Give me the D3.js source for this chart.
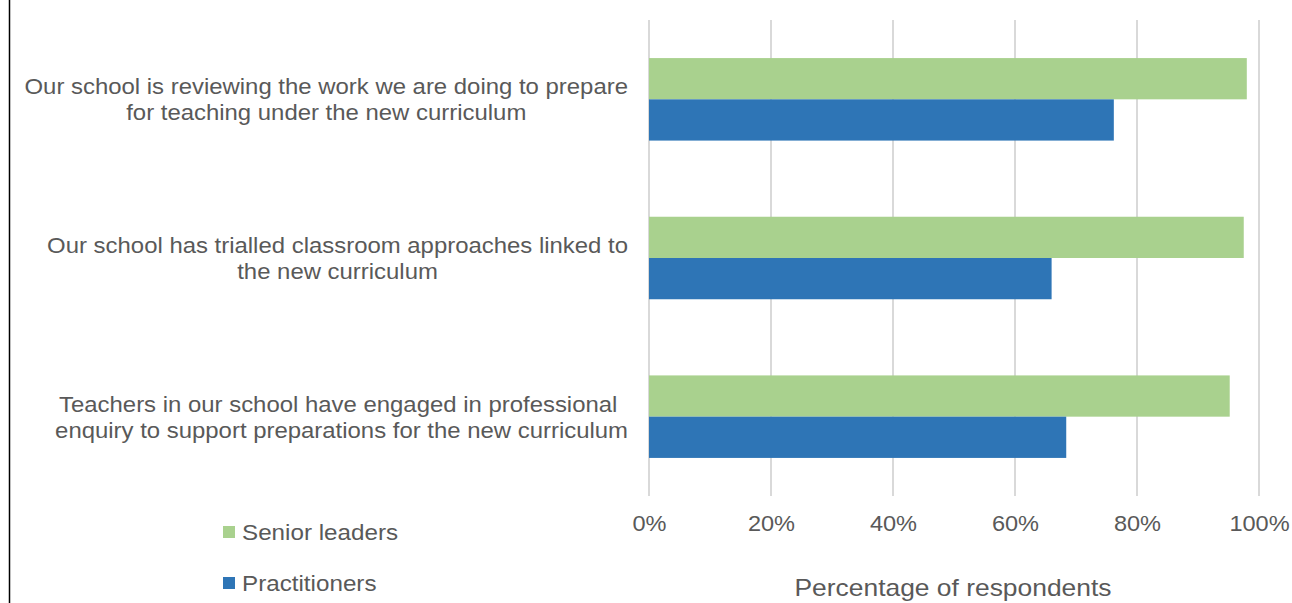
<!DOCTYPE html>
<html><head><meta charset="utf-8">
<script src="https://cdn.jsdelivr.net/npm/d3@7"></script>
<style>body{margin:0;background:#fff}svg{display:block}text{font-family:"Liberation Sans",Arial,sans-serif}</style>
</head><body>
<svg id="c" width="1292" height="603"></svg>
<script>
const categories = [
  ["Our school is reviewing the work we are doing to prepare", "for teaching under the new curriculum"],
  ["Our school has trialled classroom approaches linked to", "the new curriculum"],
  ["Teachers in our school have engaged in professional ", "enquiry to support preparations for the new curriculum"]
];
const seriesNames = ["Senior leaders", "Practitioners"];
const seniorLeaders = [98.0, 97.5, 95.2];
const practitioners = [76.2, 66.0, 68.4];
const xTicks = [0, 20, 40, 60, 80, 100];
const colors = ["#A9D18E", "#2E75B6"];

const svg = d3.select("#c");
const W = 1292, H = 603;
const STRETCH = 1.09;
function stretch(sel, k) {
  sel.each(function () {
    const w = this.getComputedTextLength();
    d3.select(this).attr("textLength", w * (k || STRETCH)).attr("lengthAdjust", "spacingAndGlyphs");
  });
}
const x = d3.scaleLinear().domain([0, 100]).range([649, 1259]);
const y = d3.scaleBand().domain(d3.range(categories.length)).range([20, 496]).paddingInner(0.48).paddingOuter(0.24);
const sub = d3.scaleBand().domain([0, 1]).range([0, y.bandwidth()]);
const values = [seniorLeaders, practitioners];

// left border
svg.append("line").attr("x1", 9.5).attr("x2", 9.5).attr("y1", 0).attr("y2", H).attr("stroke", "#000").attr("stroke-width", 1.5);

// gridlines
svg.append("g").selectAll("line").data(xTicks).join("line")
  .attr("x1", d => x(d)).attr("x2", d => x(d)).attr("y1", 20).attr("y2", 496)
  .attr("stroke", "#d9d9d9").attr("stroke-width", 2);

// bars
values.forEach((vals, si) => {
  svg.append("g").selectAll("rect").data(vals).join("rect")
    .attr("x", x(0)).attr("y", (d, i) => y(i) + sub(si))
    .attr("width", d => x(d) - x(0)).attr("height", sub.bandwidth())
    .attr("fill", colors[si]);
});

// category labels
const lab = svg.append("g");
categories.forEach((lines, i) => {
  const g = lab.append("g");
  const cy = y(i) + y.bandwidth() / 2;
  const t = g.selectAll("text").data(lines).join("text")
    .attr("y", (d, k) => cy + (k - 0.5) * 26 + 8)
    .attr("text-anchor", "middle").attr("font-size", 22).attr("fill", "#595959")
    .attr("xml:space", "preserve")
    .text(d => d);
  let maxW = 0;
  t.each(function () { maxW = Math.max(maxW, this.getComputedTextLength()); });
  stretch(t, 1.087);
  t.attr("x", 628 - maxW * 1.087 / 2);
});

// x axis ticks
const ax = svg.append("g").attr("transform", "translate(0,531)")
  .call(d3.axisBottom(x).tickValues(xTicks).tickFormat(d => d + "%").tickSize(0).tickPadding(0));
ax.select(".domain").remove();
ax.selectAll("text").attr("font-size", 22).attr("fill", "#595959").attr("dy", 0)
  .attr("font-family", '"Liberation Sans",Arial,sans-serif');
stretch(ax.selectAll("text"), 1.07);

const title = svg.append("text").attr("x", 953).attr("y", 596).attr("text-anchor", "middle")
  .attr("font-size", 24).attr("fill", "#595959").text("Percentage of respondents");
stretch(title, 1.1);

// legend
const leg = svg.append("g");
seriesNames.forEach((n, i) => {
  const ly = 532 + i * 51;
  leg.append("rect").attr("x", 223).attr("y", ly - 6).attr("width", 12).attr("height", 12).attr("fill", colors[i]);
  const t = leg.append("text").attr("x", 242).attr("y", ly + 8).attr("font-size", 22).attr("fill", "#595959").text(n);
  stretch(t, 1.1);
});
</script>
</body></html>
